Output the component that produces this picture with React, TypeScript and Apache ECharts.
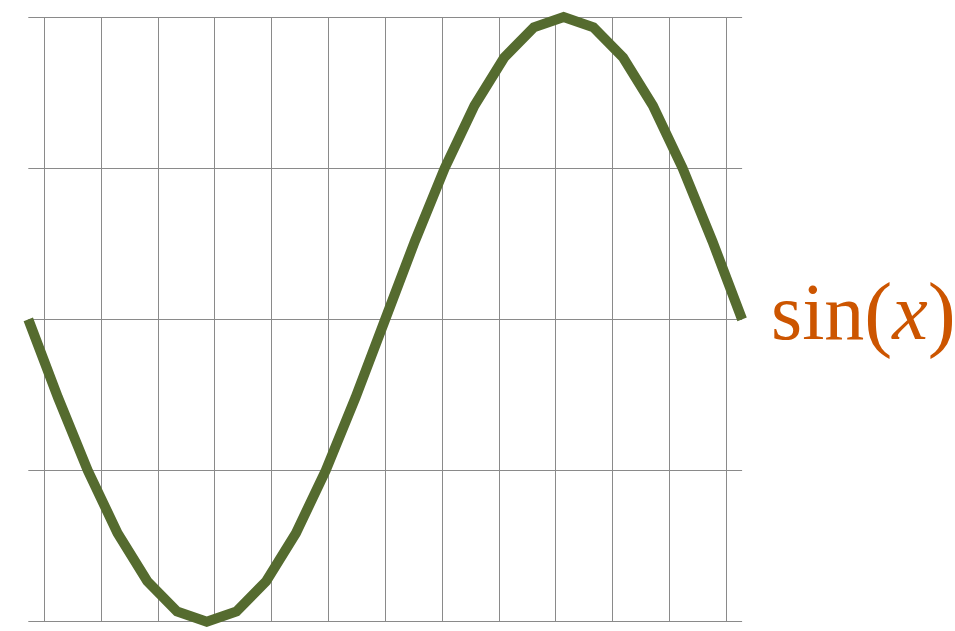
import React, { useEffect, useRef } from "react";
import * as echarts from "echarts";

const xValues = [
  -3.1416, -2.8798, -2.618, -2.3562, -2.0944, -1.8326, -1.5708, -1.309, -1.0472,
  -0.7854, -0.5236, -0.2618, 0, 0.2618, 0.5236, 0.7854, 1.0472, 1.309, 1.5708,
  1.8326, 2.0944, 2.3562, 2.618, 2.8798, 3.1416,
];
const yValues = [
  0, -0.259, -0.5, -0.707, -0.866, -0.966, -1, -0.966, -0.866, -0.707, -0.5,
  -0.259, 0, 0.259, 0.5, 0.707, 0.866, 0.966, 1, 0.966, 0.866, 0.707, 0.5,
  0.259, 0,
];
const xGridMin = -3;
const xGridMax = 3;
const gridStep = 0.5;
const yMin = -1;
const yMax = 1;
const labelText = { name: "sin", arg: "x" };

export default function App() {
  const ref = useRef<HTMLDivElement>(null);
  useEffect(() => {
    if (!ref.current) return;
    const chart = echarts.init(ref.current, null, { renderer: "svg" });
    const data = xValues.map((x, i) => [x, yValues[i]]);
    const gridColor = "#8a8a8a";
    const orange = "#CC5500";
    chart.setOption({
      animation: false,
      grid: [
        { left: 28.3, right: 212.9, top: 17, bottom: 9.3 },
        { left: 44.3, right: 229, top: 17, bottom: 9.3 },
      ],
      xAxis: [
        {
          gridIndex: 0,
          type: "value",
          min: -Math.PI,
          max: Math.PI,
          axisLine: { show: false },
          axisTick: { show: false },
          axisLabel: { show: false },
          splitLine: { show: false },
        },
        {
          gridIndex: 1,
          type: "value",
          min: xGridMin,
          max: xGridMax,
          interval: gridStep,
          axisLine: { show: false },
          axisTick: { show: false },
          axisLabel: { show: false },
          splitLine: { show: true, lineStyle: { color: gridColor, width: 1 } },
        },
      ],
      yAxis: [
        {
          gridIndex: 0,
          type: "value",
          min: yMin,
          max: yMax,
          interval: gridStep,
          axisLine: { show: false },
          axisTick: { show: false },
          axisLabel: { show: false },
          splitLine: { show: true, lineStyle: { color: gridColor, width: 1 } },
        },
        {
          gridIndex: 1,
          type: "value",
          min: yMin,
          max: yMax,
          axisLine: { show: false },
          axisTick: { show: false },
          axisLabel: { show: false },
          splitLine: { show: false },
        },
      ],
      series: [
        {
          type: "line",
          xAxisIndex: 0,
          yAxisIndex: 0,
          data,
          showSymbol: false,
          symbol: "none",
          clip: false,
          lineStyle: { color: "#556B2F", width: 10, cap: "butt", join: "miter" },
          z: 5,
        },
      ],
      graphic: [
        {
          type: "text",
          left: 771,
          top: 270,
          style: {
            text: `{a|${labelText.name}}{p|(}{b|${labelText.arg}}{p|)}`,
            rich: {
              a: {
                fontFamily: "Liberation Serif",
                fontSize: 80,
                fill: orange,
                lineHeight: 90,
              },
              p: {
                fontFamily: "Liberation Serif",
                fontSize: 84,
                fill: orange,
                lineHeight: 90,
              },
              b: {
                fontFamily: "Liberation Serif",
                fontStyle: "italic",
                fontSize: 80,
                fill: orange,
                lineHeight: 90,
              },
            },
          },
        },
      ],
    });
    return () => chart.dispose();
  }, []);
  return (
    <div
      ref={ref}
      style={{ position: "absolute", left: 0, top: 0, width: 955, height: 631 }}
    />
  );
}
